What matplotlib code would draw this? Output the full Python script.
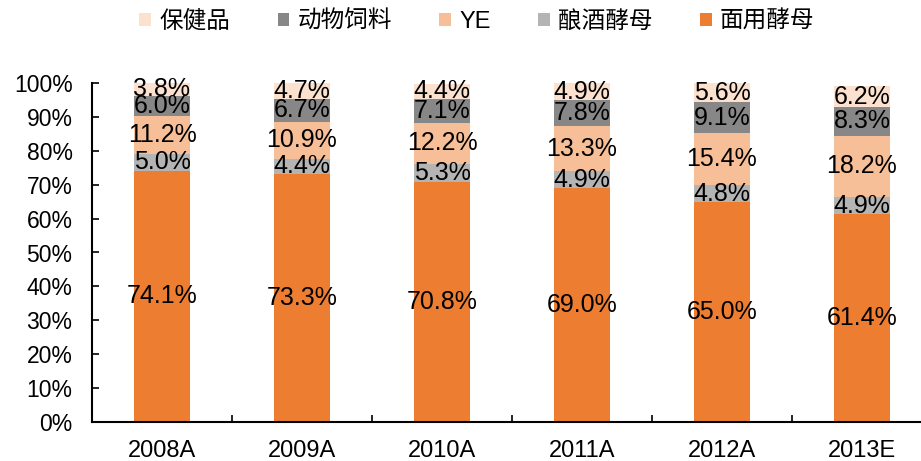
import matplotlib
matplotlib.use("Agg")
import matplotlib.pyplot as plt
import numpy as np

categories = ["2008A", "2009A", "2010A", "2011A", "2012A", "2013E"]
series_names = ["面用酵母", "酿酒酵母", "YE", "动物饲料", "保健品"]
mianyong = [74.1, 73.3, 70.8, 69.0, 65.0, 61.4]
niangjiu = [5.0, 4.4, 5.3, 4.9, 4.8, 4.9]
ye = [11.2, 10.9, 12.2, 13.3, 15.4, 18.2]
siliao = [6.0, 6.7, 7.1, 7.8, 9.1, 8.3]
baojian = [3.8, 4.7, 4.4, 4.9, 5.6, 6.2]
y_ticks = [0, 10, 20, 30, 40, 50, 60, 70, 80, 90, 100]

series = [mianyong, niangjiu, ye, siliao, baojian]
colors = ["#ED7D31", "#B4B4B4", "#F7BF97", "#878787", "#FCE1CF"]

plt.rcParams['font.family'] = ['Liberation Sans', 'Noto Sans CJK SC']

fig = plt.figure(figsize=(9.21, 4.61), dpi=100)
ax = fig.add_axes([92/921, 39/461, 840/921, 339/461])

x = np.arange(len(categories))
bottom = np.zeros(len(categories))
handles = []
for vals, name, c in zip(series, series_names, colors):
    vals = np.array(vals)
    b = ax.bar(x, vals, width=0.4, bottom=bottom, color=c, label=name)
    handles.append(b)
    for xi, v, bt in zip(x, vals, bottom):
        ax.text(xi, bt + v / 2, f"{v:.1f}%", ha='center', va='center',
                fontsize=18, color='black')
    bottom += vals

ax.set_xlim(-0.5, len(categories) - 0.5)
ax.set_ylim(0, 100)
ax.set_yticks(y_ticks)
ax.set_yticklabels([f"{t}%" for t in y_ticks], fontsize=16.5)
ax.set_xticks(x)
ax.set_xticklabels(categories, fontsize=17)
ax.set_xticks(np.arange(len(categories) + 1) - 0.5, minor=True)
ax.tick_params(axis='x', which='major', length=0, pad=13)
ax.tick_params(axis='x', which='minor', length=5, direction='in', width=1.2)
ax.tick_params(axis='y', length=5, direction='in', width=1.2, pad=14)
for s in ['top', 'right']:
    ax.spines[s].set_visible(False)
ax.spines['left'].set_linewidth(1.5)
ax.spines['bottom'].set_linewidth(1.5)

order = [4, 3, 2, 1, 0]
leg = fig.legend([handles[i] for i in order], [series_names[i] for i in order],
                 loc='center', bbox_to_anchor=(477/921, 1 - 22/461), ncol=5,
                 frameon=False, fontsize=17, handlelength=0.5, handleheight=0.5,
                 handletextpad=0.35, columnspacing=2.0)

fig.savefig("out.png", dpi=100)
